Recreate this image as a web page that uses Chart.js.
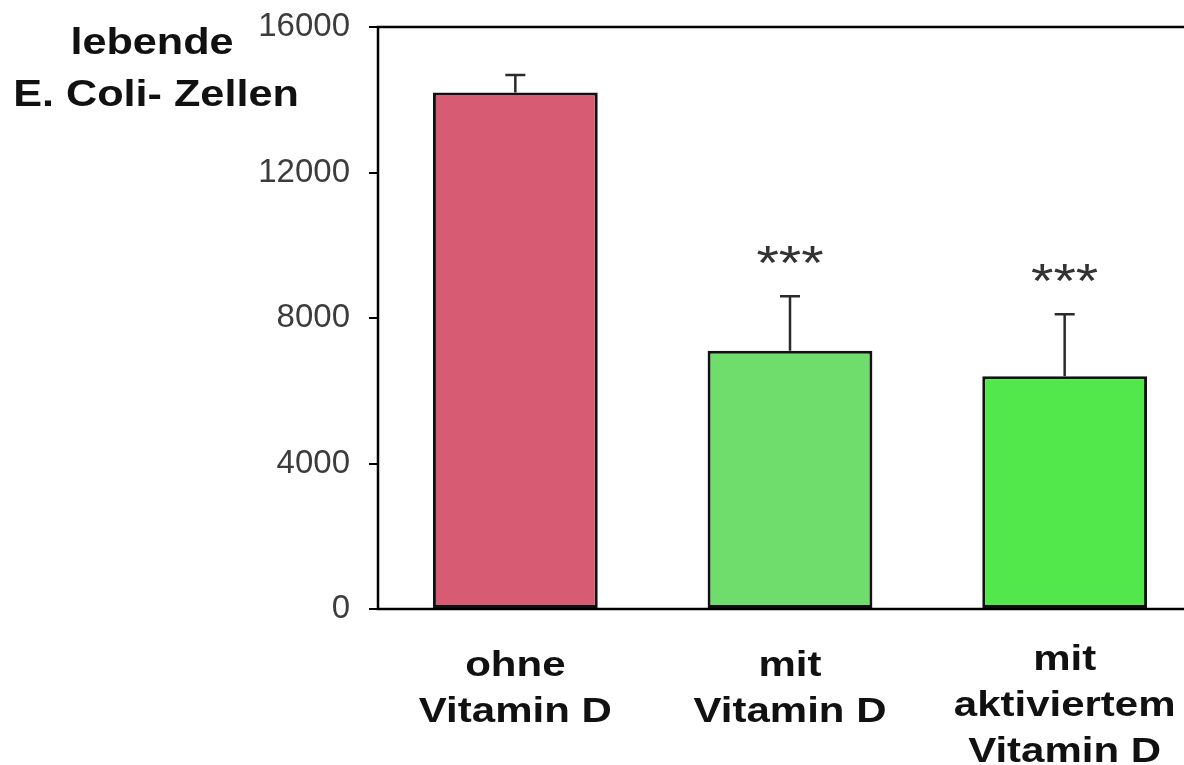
<!DOCTYPE html>
<html>
<head>
<meta charset="utf-8">
<script src="https://cdn.jsdelivr.net/npm/chart.js@4/dist/chart.umd.min.js"></script>
<style>
  html, body { margin: 0; padding: 0; background: #fff; overflow: hidden; }
  #wrap { width: 1184px; height: 765px; overflow: hidden; }
</style>
</head>
<body>
<div id="wrap"><canvas id="vitChart" width="1225" height="765"></canvas></div>
<script>
// Daten
const categories = [["ohne", "Vitamin D"], ["mit", "Vitamin D"], ["mit", "aktiviertem", "Vitamin D"]];
const values = [14200, 7100, 6400];
const errors = [480, 1500, 1700];
const marks = ["", "***", "***"];
const barColors = ["#D65B73", "#6FDD6C", "#52E84B"];
const yTitle = ["lebende", "E. Coli- Zellen"];

// gestreckter Text wie im Original (Bild ist horizontal gedehnt)
function stretchedText(ctx, text, x, y, font, color) {
  ctx.save();
  ctx.translate(x, y);
  ctx.scale(1.2, 1);
  ctx.font = font;
  ctx.fillStyle = color;
  ctx.textAlign = "center";
  ctx.textBaseline = "alphabetic";
  ctx.fillText(text, 0, 0);
  ctx.restore();
}

const extras = {
  id: "extras",
  afterDatasetsDraw(chart) {
    const ctx = chart.ctx;
    const area = chart.chartArea;
    const x = chart.scales.x;
    const y = chart.scales.y;

    // Fehlerbalken (nur nach oben)
    values.forEach((v, i) => {
      const cx = x.getPixelForValue(i);
      const top = y.getPixelForValue(v + errors[i]);
      const base = y.getPixelForValue(v);
      ctx.save();
      ctx.strokeStyle = "#2a2a2a";
      ctx.lineWidth = 2.5;
      ctx.beginPath();
      ctx.moveTo(cx, base);
      ctx.lineTo(cx, top);
      ctx.moveTo(cx - 10, top);
      ctx.lineTo(cx + 10, top);
      ctx.stroke();
      ctx.restore();
      if (marks[i]) {
        stretchedText(ctx, marks[i], cx, top - 17, "48px 'Liberation Sans', Arial", "#333");
      }
    });

    // Rahmen
    ctx.save();
    ctx.strokeStyle = "#000";
    ctx.lineWidth = 2.5;
    ctx.strokeRect(area.left, area.top, area.right - area.left, area.bottom - area.top);
    ctx.restore();

    // Kategorien unter der Achse
    categories.forEach((lines, i) => {
      const cx = x.getPixelForValue(i);
      const first = area.bottom + (lines.length > 2 ? 61 : 67);
      lines.forEach((t, j) => {
        stretchedText(ctx, t, cx, first + j * 46, "bold 35px 'Liberation Sans', Arial", "#111");
      });
    });

    // Achsentitel oben links
    stretchedText(ctx, yTitle[0], 152, 54, "bold 36px 'Liberation Sans', Arial", "#111");
    stretchedText(ctx, yTitle[1], 156, 106, "bold 36px 'Liberation Sans', Arial", "#111");
  }
};

const ctx = document.getElementById("vitChart").getContext("2d");
new Chart(ctx, {
  type: "bar",
  data: {
    labels: categories,
    datasets: [{
      data: values,
      backgroundColor: barColors,
      borderColor: "#111",
      borderWidth: 3,
      borderSkipped: false,
      barPercentage: 0.6,
      categoryPercentage: 1.0
    }]
  },
  options: {
    responsive: false,
    animation: false,
    layout: { padding: { top: 27, right: 23, bottom: 0, left: 0 } },
    scales: {
      x: {
        grid: { display: false },
        border: { display: false },
        ticks: { display: false },
        afterFit(scale) { scale.height = 156; }
      },
      y: {
        min: 0,
        max: 16000,
        border: { display: false },
        grid: {
          drawOnChartArea: false,
          tickLength: 9,
          tickColor: "#000",
          lineWidth: 2
        },
        ticks: {
          stepSize: 4000,
          padding: 19,
          color: "#3c3c3c",
          font: { family: "'Liberation Sans', Arial", size: 33 },
          callback: (v) => String(v)
        },
        afterFit(scale) {
          scale.width = 378;
          scale.paddingTop = 0;
          scale.paddingBottom = 0;
        }
      }
    },
    plugins: {
      legend: { display: false },
      tooltip: { enabled: false }
    }
  },
  plugins: [extras]
});
</script>
</body>
</html>
